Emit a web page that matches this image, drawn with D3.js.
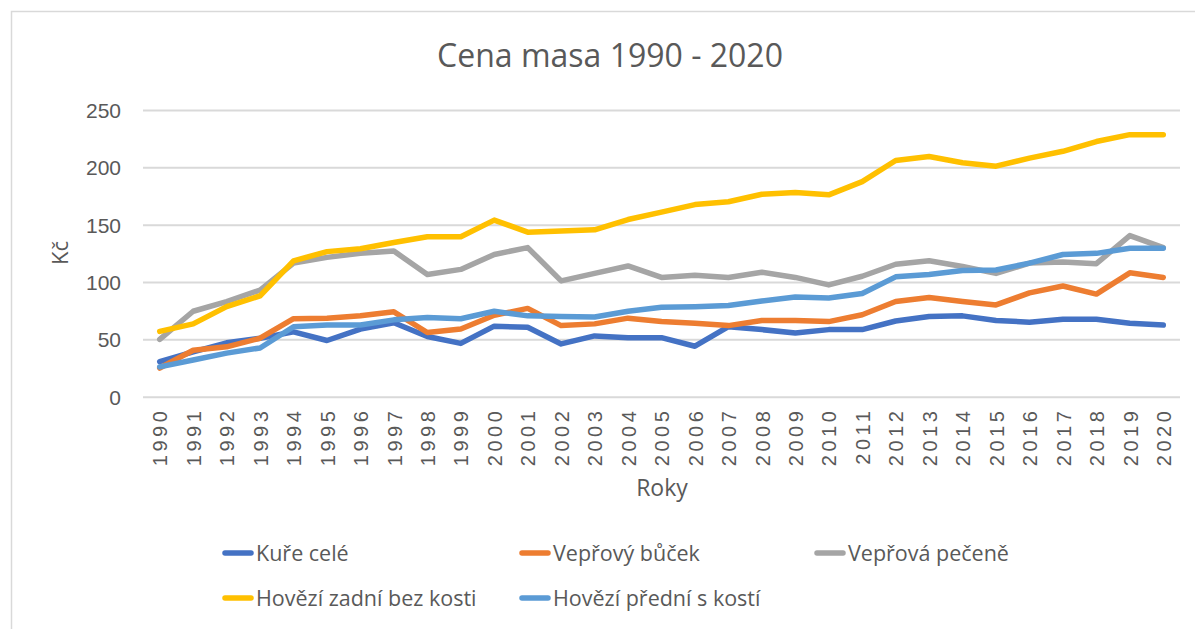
<!DOCTYPE html>
<html>
<head>
<meta charset="utf-8">
<script src="https://cdn.jsdelivr.net/npm/d3@7"></script>
<style>
  body { margin: 0; background: #fff; }
  svg { display: block; font-family: 'Open Sans', sans-serif; }
</style>
</head>
<body>
<div id="chart"></div>
<script>
const years = ['1990', '1991', '1992', '1993', '1994', '1995', '1996', '1997', '1998', '1999',
  '2000', '2001', '2002', '2003', '2004', '2005', '2006', '2007', '2008', '2009',
  '2010', '2011', '2012', '2013', '2014', '2015', '2016', '2017', '2018', '2019', '2020']

const yTicks = [0, 50, 100, 150, 200, 250]

const kureCele = [30.5, 39, 47, 51, 56.5, 49, 59, 64.5, 52.5, 46.5, 61.5, 60.5, 46, 53, 51.5,
  51.5, 44, 61, 58.5, 55.5, 58.5, 58.5, 66, 70, 70.5, 66.5, 65, 67.5, 67.5, 64, 62.5]
const veprovyBucek = [25, 40.5, 43.5, 51, 68, 68.5, 70.5, 74, 56, 59, 71, 77, 62, 63.5, 68.5,
  65.5, 64, 62, 66.5, 66.5, 65.5, 71.5, 83, 86.5, 83, 80, 90.5, 96.5, 89.5, 108, 104]
const veprovaPecene = [50, 74.5, 83, 93, 116.5, 121.5, 125, 127, 106.5, 111, 124, 130, 101, 107.5, 114,
  104, 106, 104, 108.5, 104, 97.5, 105, 115.5, 118.5, 113.5, 107.5, 116.5, 117.5, 116, 140.5, 130]
const hoveziZadni = [57, 63.5, 78.5, 88, 118.5, 126.5, 129, 134.5, 139.5, 139.5, 154, 143.5, 144.5, 145.5, 154.5,
  161, 167.5, 170, 176.5, 178, 176, 187.5, 206, 209.5, 204, 201, 208, 214, 222.5, 228.5, 228.5]
const hoveziPredni = [26, 32, 38, 42.5, 61, 62.5, 62.5, 67, 69, 68, 74.5, 70.5, 70, 69.5, 74.5,
  78, 78.5, 79.5, 83.5, 87, 86, 90, 104.5, 106.5, 110, 110.5, 116.5, 124, 125, 129.5, 129.5]

// series in Excel's drawing order (last one on top)
const series = [
  { name: 'Kuře celé', values: kureCele, color: '#4472C4' },
  { name: 'Vepřový bůček', values: veprovyBucek, color: '#ED7D31' },
  { name: 'Vepřová pečeně', values: veprovaPecene, color: '#A5A5A5' },
  { name: 'Hovězí zadní bez kosti', values: hoveziZadni, color: '#FFC000' },
  { name: 'Hovězí přední s kostí', values: hoveziPredni, color: '#5B9BD5' }
]

const width = 1195
const height = 629
const plot = { left: 143, right: 1180, top: 110, bottom: 396.7 }
const textColor = '#595959'
const gridColor = '#d9d9d9'

const svg = d3.select('#chart')
  .append('svg')
  .attr('width', width)
  .attr('height', height)

// chart frame, it runs off the right and bottom edge of the picture
svg.append('rect')
  .attr('x', 11.5)
  .attr('y', 11.5)
  .attr('width', width + 20)
  .attr('height', height + 20)
  .attr('fill', '#fff')
  .attr('stroke', gridColor)
  .attr('stroke-width', 1.5)

const x = d3.scalePoint()
  .domain(years)
  .range([plot.left, plot.right])
  .padding(0.5)

const y = d3.scaleLinear()
  .domain([0, 250])
  .range([plot.bottom, plot.top])

// gridlines + y labels
svg.append('g')
  .attr('transform', `translate(${plot.left},0)`)
  .call(d3.axisLeft(y).tickValues(yTicks).tickSize(-(plot.right - plot.left)).tickPadding(22))
  .call(g => g.select('.domain').remove())
  .call(g => g.selectAll('.tick line').attr('stroke', gridColor).attr('stroke-width', 2))
  .call(g => g.selectAll('.tick text')
    .attr('fill', textColor)
    .style('font-size', '21px')
    .attr('dy', '0.36em'))

// x labels, rotated
svg.append('g')
  .attr('transform', `translate(0,${plot.bottom})`)
  .call(d3.axisBottom(x).tickSize(0).tickPadding(0))
  .call(g => g.select('.domain').remove())
  .call(g => g.selectAll('.tick text')
    .attr('fill', textColor)
    .style('font-size', '20px')
    .style('letter-spacing', '3.5px')
    .attr('text-anchor', 'end')
    .attr('transform', 'rotate(-90)')
    .attr('x', -11)
    .attr('y', 0)
    .attr('dy', '0.36em'))

const line = d3.line()
  .x((d, i) => x(years[i]))
  .y(d => y(d))

svg.append('g')
  .selectAll('path')
  .data(series)
  .join('path')
  .attr('fill', 'none')
  .attr('stroke', d => d.color)
  .attr('stroke-width', 5.5)
  .attr('stroke-linecap', 'round')
  .attr('stroke-linejoin', 'round')
  .attr('d', d => line(d.values))

// title
svg.append('text')
  .attr('x', 610)
  .attr('y', 67)
  .attr('text-anchor', 'middle')
  .attr('fill', textColor)
  .style('font-size', '32px')
  .text('Cena masa 1990 - 2020')

// axis titles
svg.append('text')
  .attr('transform', 'translate(68,253) rotate(-90)')
  .attr('text-anchor', 'middle')
  .attr('fill', textColor)
  .style('font-size', '22px')
  .text('Kč')

svg.append('text')
  .attr('x', 662)
  .attr('y', 496)
  .attr('text-anchor', 'middle')
  .attr('fill', textColor)
  .style('font-size', '23px')
  .text('Roky')

// legend, three columns
const legendCols = [223, 520, 815]
const legendRows = [553, 598]

const item = svg.append('g')
  .selectAll('g')
  .data(series)
  .join('g')
  .attr('transform', (d, i) => `translate(${legendCols[i % 3]},${legendRows[Math.floor(i / 3)]})`)

item.append('line')
  .attr('x1', 2)
  .attr('x2', 28)
  .attr('stroke', d => d.color)
  .attr('stroke-width', 5.5)
  .attr('stroke-linecap', 'round')

item.append('text')
  .attr('x', 33)
  .attr('dy', '0.35em')
  .attr('fill', textColor)
  .style('font-size', '21.5px')
  .text(d => d.name)
</script>
</body>
</html>
